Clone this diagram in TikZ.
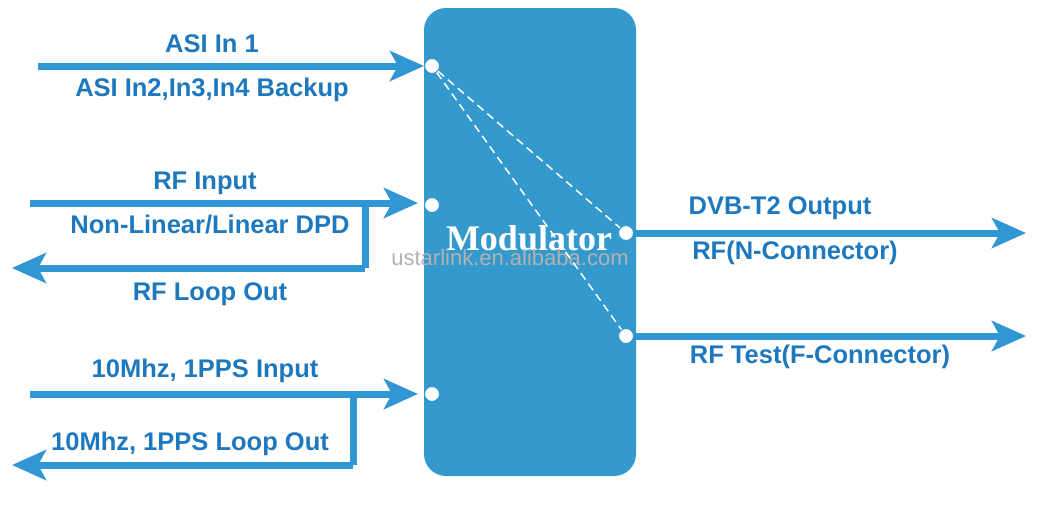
\documentclass[tikz,border=0pt]{standalone}
\usepackage{fontspec}
\setmainfont{Liberation Sans}
\usetikzlibrary{arrows.meta}
\definecolor{boxblue}{RGB}{52,154,206}
\definecolor{lineblue}{RGB}{48,150,212}
\definecolor{textblue}{RGB}{30,120,190}
\begin{document}
\begin{tikzpicture}[x=1pt,y=-1pt,
  wire/.style={draw=lineblue,line width=7pt},
  inarrow/.style={wire,-{Stealth[length=34pt,width=30pt,inset=8pt]}},
  port/.style={circle,fill=white,draw=boxblue,line width=1pt,inner sep=0pt,minimum size=15pt},
  lbl/.style={text=textblue,font=\fontsize{25.5}{27}\selectfont\bfseries},
  switchline/.style={draw=white,line width=1.5pt,dash pattern=on 8pt off 5pt}]
  \useasboundingbox (0,0) rectangle (1038,504);
  % modulator block
  \fill[boxblue,rounded corners=22pt] (424,8) rectangle (636,476);
  \node[text=white,font=\fontsize{36}{38}\selectfont\bfseries] (mod) at (529,238) {\fontspec{Liberation Serif}Modulator};
  \node[text=gray!60,font=\fontsize{22}{24}\selectfont] (wm) at (510,258) {ustarlink.en.alibaba.com};
  % ports
  \node[port] (pasi) at (432,66) {};
  \node[port] (prf) at (432,205) {};
  \node[port] (pref) at (432,394) {};
  \node[port] (pdvb) at (626,233) {};
  \node[port] (ptest) at (626,336) {};
  \coordinate (asiL) at (38,66);
  \coordinate (rfL) at (30,203);
  \coordinate (rfR) at (418,203);
  \coordinate (rfA) at (365,203);
  \coordinate (rfB) at (365,268);
  \coordinate (rfO) at (12,268);
  \coordinate (refL) at (30,394);
  \coordinate (refR) at (418,394);
  \coordinate (refA) at (353,394);
  \coordinate (refB) at (353,465);
  \coordinate (refO) at (12,465);
  \coordinate (dvbR) at (1026,233);
  \coordinate (testR) at (1026,336);
  % inputs
  \draw[inarrow] (asiL) -- (pasi.west);
  \draw[inarrow] (rfL) -- (rfR);
  \draw[wire] (rfA) -- (rfB);
  \draw[inarrow] (rfB) -- (rfO);
  \draw[inarrow] (refL) -- (refR);
  \draw[wire] (refA) -- (refB);
  \draw[inarrow] (refB) -- (refO);
  % outputs
  \draw[inarrow] (pdvb.east) -- (dvbR);
  \draw[inarrow] (ptest.east) -- (testR);
  % switching
  \draw[switchline] (pasi) -- (pdvb);
  \draw[switchline] (pasi) -- (ptest);
  % labels
  \node[lbl] (l1) at (212,44) {ASI In 1};
  \node[lbl] (l2) at (212,90) {ASI In2,In3,In4 Backup};
  \node[lbl] (l3) at (205,183) {RF Input};
  \node[lbl] (l4) at (210,225) {Non-Linear/Linear DPD};
  \node[lbl] (l5) at (210,294) {RF Loop Out};
  \node[lbl] (l6) at (205,371) {10Mhz, 1PPS Input};
  \node[lbl] (l7) at (190,444) {10Mhz, 1PPS Loop Out};
  \node[lbl] (l8) at (780,208) {DVB-T2 Output};
  \node[lbl] (l9) at (795,253) {RF(N-Connector)};
  \node[lbl] (l10) at (820,357) {RF Test(F-Connector)};
\end{tikzpicture}
\end{document}
